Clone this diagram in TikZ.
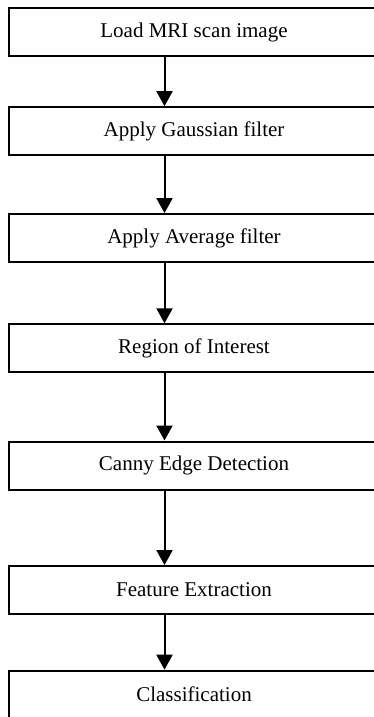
\documentclass[tikz,border=0pt]{standalone}
\usepackage{fontspec}
\setmainfont{Liberation Serif}
\usetikzlibrary{arrows.meta}

\tikzset{every picture/.style={line width=1.5pt}}
\tikzset{stepbox/.style={draw, line width=1.5pt, minimum width=277.5pt, minimum height=36pt, inner sep=0.75pt, font=\fontsize{15.75}{18}\selectfont}}
\tikzset{flow/.style={-{Triangle[length=11.25pt,width=12pt]}, line width=1.5pt}}

\begin{document}
\begin{tikzpicture}[x=0.75pt,y=0.75pt,yscale=-1,xscale=1]
%set diagram left start at 0, and has height of 717
\useasboundingbox (0,0) rectangle (374,717);
\clip (0,0) rectangle (374,717);
\coordinate (spine) at (164.5,0);

% Text Node
\node [stepbox] (load) at (194,32.2) {Load MRI scan image};
% Text Node
\node [stepbox] (gauss) at (194,131.2) {Apply Gaussian filter};
% Text Node
\node [stepbox] (avg) at (194,238.1) {Apply Average filter};
% Text Node
\node [stepbox] (roi) at (194,348.3) {Region of Interest};
% Text Node
\node [stepbox] (canny) at (194,465.5) {Canny Edge Detection};
% Text Node
\node [stepbox] (feat) at (194,590.1) {Feature Extraction};
% Text Node
\node [stepbox] (cls) at (194,694.7) {Classification};

%Straight Lines
\draw [flow] (load.south -| spine) -- (gauss.north -| spine);
%Straight Lines
\draw [flow] (gauss.south -| spine) -- (avg.north -| spine);
%Straight Lines
\draw [flow] (avg.south -| spine) -- (roi.north -| spine);
%Straight Lines
\draw [flow] (roi.south -| spine) -- (canny.north -| spine);
%Straight Lines
\draw [flow] (canny.south -| spine) -- (feat.north -| spine);
%Straight Lines
\draw [flow] (feat.south -| spine) -- (cls.north -| spine);

\end{tikzpicture}
\end{document}
